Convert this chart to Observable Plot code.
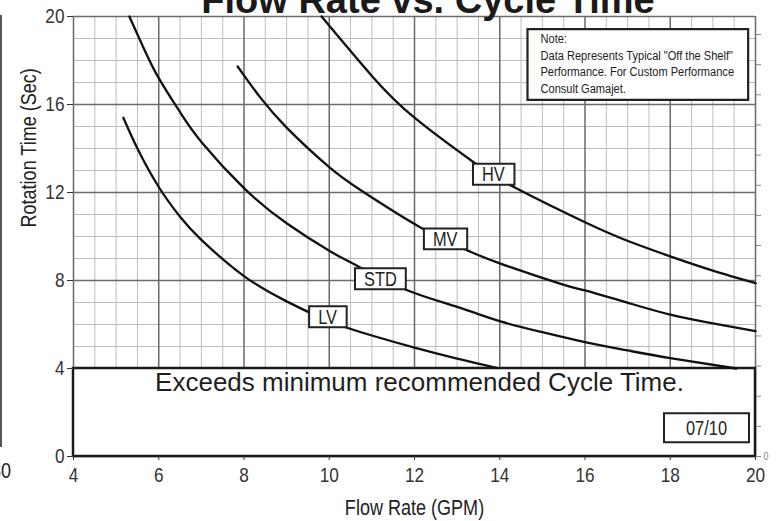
<!DOCTYPE html>
<html>
<head>
<meta charset="utf-8">
<script src="https://cdn.jsdelivr.net/npm/d3@7"></script>
<script src="https://cdn.jsdelivr.net/npm/@observablehq/plot@0.6"></script>
<style>
  html, body { margin: 0; padding: 0; background: #fff; overflow: hidden; }
  #wrap { position: relative; width: 783px; height: 521px; }
  #wrap svg { position: absolute; left: 0; top: 0; }
  .title { position: absolute; left: 428px; top: -19px; transform: translateX(-50%); white-space: nowrap;
           font: bold 38px/38px "Liberation Sans", Arial, sans-serif; color: #1a1a1a; z-index: 2; }
  .edge { position: absolute; left: 0; top: 15px; width: 2px; height: 432px; background: #555; z-index: 2; }
  .edgeNum { position: absolute; left: -9px; top: 460px; font: 22px/22px "Liberation Sans", Arial, sans-serif;
             color: #222; transform: scaleX(0.82); transform-origin: left top; z-index: 2; }
</style>
</head>
<body>
<div id="wrap">
  <div class="title">Flow Rate vs. Cycle Time</div>
  <div class="edge"></div>
  <div class="edgeNum">30</div>
</div>
<script>
// ---- data ----
const xTicks = [4, 6, 8, 10, 12, 14, 16, 18, 20];
const yTicks = [0, 4, 8, 12, 16, 20];
const minCycle = 4;

const lvFlow  = [5.17, 5.5, 6, 6.5, 7, 8, 9, 10, 11, 12, 13, 13.95];
const lvTime  = [15.4, 14.0, 12.25, 10.9, 9.85, 8.2, 7.05, 6.15, 5.5, 4.95, 4.45, 4.02];

const stdFlow = [5.31, 5.65, 6, 6.5, 7, 8, 9, 10, 10.62, 11.77, 13, 14, 15, 16, 17, 18, 19.55];
const stdTime = [20, 18.55, 17.2, 15.65, 14.3, 12.2, 10.6, 9.35, 8.7, 7.6, 6.8, 6.15, 5.65, 5.2, 4.82, 4.47, 4.0];

const mvFlow  = [7.85, 8.1, 8.39, 9, 10, 10.74, 12.15, 13.25, 14, 15.43, 16, 17.07, 18, 19, 20];
const mvTime  = [17.73, 17.05, 16.3, 14.95, 13.15, 12.1, 10.4, 9.36, 8.78, 7.85, 7.55, 6.95, 6.45, 6.05, 5.7];

const hvFlow  = [9.82, 11, 12, 13.37, 14.33, 16, 17.07, 18, 19, 20];
const hvTime  = [20, 17.3, 15.4, 13.4, 12.25, 10.65, 9.75, 9.1, 8.45, 7.88];

const seriesNames = ["LV", "STD", "MV", "HV"];
const labelFlow = [9.96, 11.2, 12.72, 13.85];
const labelTime = [6.32, 8.05, 9.86, 12.8];

const noteText = "Note:\nData Represents Typical \"Off the Shelf\"\nPerformance. For Custom Performance\nConsult Gamajet.";
const exceedText = "Exceeds minimum recommended Cycle Time.";
const dateCode = "07/10";
const xLabel = "Flow Rate (GPM)";
const yLabel = "Rotation Time (Sec)";

// ---- build tables ----
const flows = [lvFlow, stdFlow, mvFlow, hvFlow];
const times = [lvTime, stdTime, mvTime, hvTime];
const rows = seriesNames.flatMap((s, i) => flows[i].map((f, j) => ({series: s, flow: f, time: times[i][j]})));
const labels = seriesNames.map((s, i) => ({series: s, flow: labelFlow[i], time: labelTime[i]}));
const zone = [{x1: xTicks[0], x2: xTicks[xTicks.length - 1], y1: yTicks[0], y2: minCycle}];

const xHalf = d3.range(xTicks[0], xTicks[xTicks.length - 1] + 0.01, 0.5).filter(v => !xTicks.includes(v));
const yMinor = d3.range(0, 20.01, 1).filter(v => !yTicks.includes(v));
const rightTicks = d3.range(0, 20.01, 1.37);

const font = "'Liberation Sans', Arial, sans-serif";

const chart = Plot.plot({
  width: 783,
  height: 521,
  marginLeft: 73,
  marginRight: 28,
  marginTop: 16,
  marginBottom: 65,
  x: {domain: [4, 20], label: null},
  y: {domain: [0, 20], label: null},
  style: {fontFamily: font, background: "white", color: "#222", overflow: "visible"},
  marks: [
    Plot.ruleX(xHalf, {stroke: "#bdbdbd", strokeWidth: 1}),
    Plot.ruleY(yMinor, {stroke: "#bdbdbd", strokeWidth: 1}),
    Plot.ruleX(xTicks, {stroke: "#6a6a6a", strokeWidth: 1.5}),
    Plot.ruleY(yTicks, {stroke: "#6a6a6a", strokeWidth: 1.5}),
    Plot.rect(zone, {x1: "x1", x2: "x2", y1: "y1", y2: "y2", fill: "white", stroke: "#1a1a1a", strokeWidth: 2.5}),
    Plot.line(rows, {x: "flow", y: "time", z: "series", curve: "natural", stroke: "#111", strokeWidth: 2.3}),
    Plot.text(labels, {x: "flow", y: "time", text: "series", fontSize: 20, fill: "#222", ariaDescription: "curve-labels"}),
    Plot.text([exceedText], {text: d => d, frameAnchor: "bottom", lineAnchor: "middle", dx: 5, dy: -74, fontSize: 26, fill: "#1f1f1f", ariaDescription: "exceed"}),
    Plot.text([dateCode], {text: d => d, frameAnchor: "bottom-right", textAnchor: "middle", lineAnchor: "middle", dx: -49, dy: -28, fontSize: 20, fill: "#222", ariaDescription: "date-box"}),
    Plot.text([noteText], {text: d => d, frameAnchor: "top-right", textAnchor: "start", lineAnchor: "top", dx: -215, dy: 15, fontSize: 13.5, lineHeight: 1.22, fill: "#222", ariaDescription: "note-box"}),
    Plot.axisY(yTicks, {anchor: "left", tickSize: 6, tickPadding: 3, fontSize: 21, color: "#333", label: null}),
    Plot.axisX(xTicks, {anchor: "bottom", tickSize: 4, tickPadding: 7, fontSize: 21, color: "#333", label: null}),
    Plot.axisY(rightTicks, {anchor: "right", tickSize: 5, tickPadding: 3, fontSize: 11, color: "#888", tickFormat: d => d === 0 ? "0" : "", label: null}),
    Plot.text([yLabel], {text: d => d, frameAnchor: "left", rotate: -90, dx: -45, dy: -9, fontSize: 22, fill: "#222"}),
    Plot.text([xLabel], {text: d => d, frameAnchor: "bottom", lineAnchor: "middle", dy: 51, fontSize: 22, fill: "#222"})
  ]
});

document.getElementById("wrap").appendChild(chart);

// narrow (condensed) look: squeeze every text except the wide banner text
const squeeze = 0.82;
chart.querySelectorAll("text").forEach(t => {
  if (t.closest('g[aria-description="exceed"]')) return;
  const x = +t.getAttribute("x") || 0, y = +t.getAttribute("y") || 0;
  const tr = t.getAttribute("transform") || "";
  t.setAttribute("transform", `${tr} translate(${x},${y}) scale(${squeeze},1) translate(${-x},${-y})`);
});

function boxify(desc, pad, sw) {
  chart.querySelectorAll(`g[aria-description="${desc}"] text`).forEach(t => {
    const b = t.getBBox();
    const r = document.createElementNS("http://www.w3.org/2000/svg", "rect");
    r.setAttribute("x", b.x - pad.l / squeeze);
    r.setAttribute("y", b.y - pad.t);
    r.setAttribute("width", b.width + (pad.l + pad.r) / squeeze);
    r.setAttribute("height", b.height + pad.t + pad.b);
    const tr = t.getAttribute("transform");
    if (tr) r.setAttribute("transform", tr);
    r.setAttribute("fill", "white");
    r.setAttribute("stroke", "#222");
    r.setAttribute("stroke-width", sw);
    r.setAttribute("vector-effect", "non-scaling-stroke");
    t.parentNode.insertBefore(r, t);
  });
}
boxify("curve-labels", {l: 9, r: 9, t: -1, b: -1}, 2);
boxify("date-box", {l: 22, r: 22, t: 3, b: 3}, 2);
boxify("note-box", {l: 13, r: 14, t: 2, b: 4}, 2.2);
</script>
</body>
</html>
